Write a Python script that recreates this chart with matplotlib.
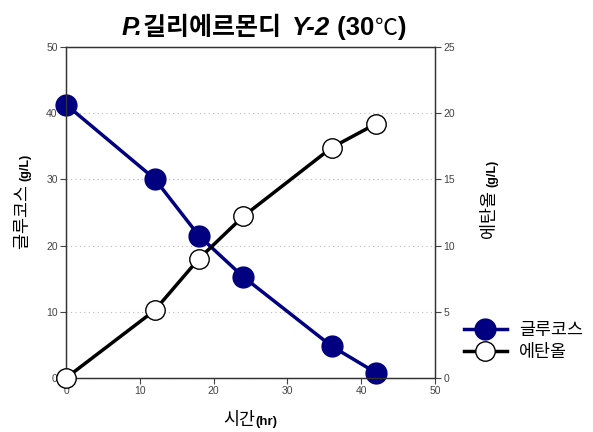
import matplotlib.pyplot as plt
from matplotlib.lines import Line2D

# data
time_hr = [0, 12, 18, 24, 36, 42]
glucose = [41.3, 30.1, 21.5, 15.3, 4.8, 0.8]
ethanol = [0.0, 5.1, 9.0, 12.2, 17.4, 19.2]

left_ticks = [0, 10, 20, 30, 40, 50]
right_ticks = [0, 5, 10, 15, 20, 25]
x_ticks = [0, 10, 20, 30, 40, 50]

KR = ['Noto Sans CJK KR', 'DejaVu Sans']
EN = ['Liberation Sans', 'DejaVu Sans']

fig = plt.figure(figsize=(5.93, 4.32), dpi=100)
W, H = 593, 432
ax = fig.add_axes([66 / W, 1 - 378 / H, (435 - 66) / W, (378 - 47) / H])
ax2 = ax.twinx()

ax.plot(time_hr, glucose, color='#000080', lw=2.5, marker='o', ms=15,
        mfc='#000080', mec='#000080', clip_on=False, zorder=3)
ax2.plot(time_hr, ethanol, color='black', lw=2.5, marker='o', ms=14,
         mfc='white', mec='black', mew=1, clip_on=False, zorder=3)

ax.set_xlim(0, 50)
ax.set_ylim(0, 50)
ax2.set_ylim(0, 25)
ax.set_xticks(x_ticks)
ax.set_yticks(left_ticks)
ax2.set_yticks(right_ticks)
for a in (ax, ax2):
    a.tick_params(direction='out', length=4, width=0.8, labelsize=7.5,
                  colors='#444444', pad=2)
    for lab in a.get_xticklabels() + a.get_yticklabels():
        lab.set_family(EN)
    for sp in a.spines.values():
        sp.set_color('#333333')
        sp.set_linewidth(0.9)
ax.yaxis.grid(True, ls=(0, (1, 3)), color='#bbbbbb', lw=0.8)
ax.set_axisbelow(True)


def put_pieces(pieces, cx, cy, rotation=0):
    # place text pieces one after another along the baseline, centred on cx/cy
    r = fig.canvas.get_renderer()
    objs = []
    for s, kw in pieces:
        t = fig.text(0, 0, s, rotation=rotation, rotation_mode='anchor',
                     ha='left', va='baseline', **kw)
        objs.append(t)
    sizes = []
    for t in objs:
        bb = t.get_window_extent(r)
        sizes.append(bb.width if rotation == 0 else bb.height)
    total = sum(sizes)
    if rotation == 0:
        pos = cx - total / 2
        for t, s in zip(objs, sizes):
            t.set_position((pos / W, 1 - cy / H))
            pos += s
    else:
        pos = (H - cy) - total / 2
        for t, s in zip(objs, sizes):
            t.set_position((cx / W, pos / H))
            pos += s


put_pieces([('P.', dict(family=EN, size=18.5, weight='bold', style='italic')),
            ('길리에르몬디  ', dict(family=KR, size=18, weight='bold')),
            ('Y-2', dict(family=EN, size=18.5, weight='bold', style='italic')),
            (' (30', dict(family=EN, size=18.5, weight='bold')),
            ('℃', dict(family=KR, size=16.5)),
            (')', dict(family=EN, size=18.5, weight='bold'))],
           264, 35)

put_pieces([('글루코스 ', dict(family=KR, size=12.5)),
            ('(g/L)', dict(family=EN, size=9, weight='bold'))],
           28, 201, rotation=90)
put_pieces([('에탄올 ', dict(family=KR, size=12.5)),
            ('(g/L)', dict(family=EN, size=9, weight='bold'))],
           495, 199, rotation=90)
put_pieces([('시간', dict(family=KR, size=12.5)),
            ('(hr)', dict(family=EN, size=9.5, weight='bold'))],
           250, 425)

handles = [Line2D([], [], color='#000080', lw=2.5, marker='o', ms=15,
                  mfc='#000080', mec='#000080'),
           Line2D([], [], color='black', lw=2.5, marker='o', ms=14,
                  mfc='white', mec='black')]
fig.legend(handles, ['글루코스', '에탄올'], loc='center left',
           bbox_to_anchor=(448 / W, 1 - 341 / H), frameon=False,
           prop=dict(family=KR, size=12.5), handlelength=2.5,
           handletextpad=0.7, labelspacing=0.2)

fig.savefig('out.png', dpi=100)
